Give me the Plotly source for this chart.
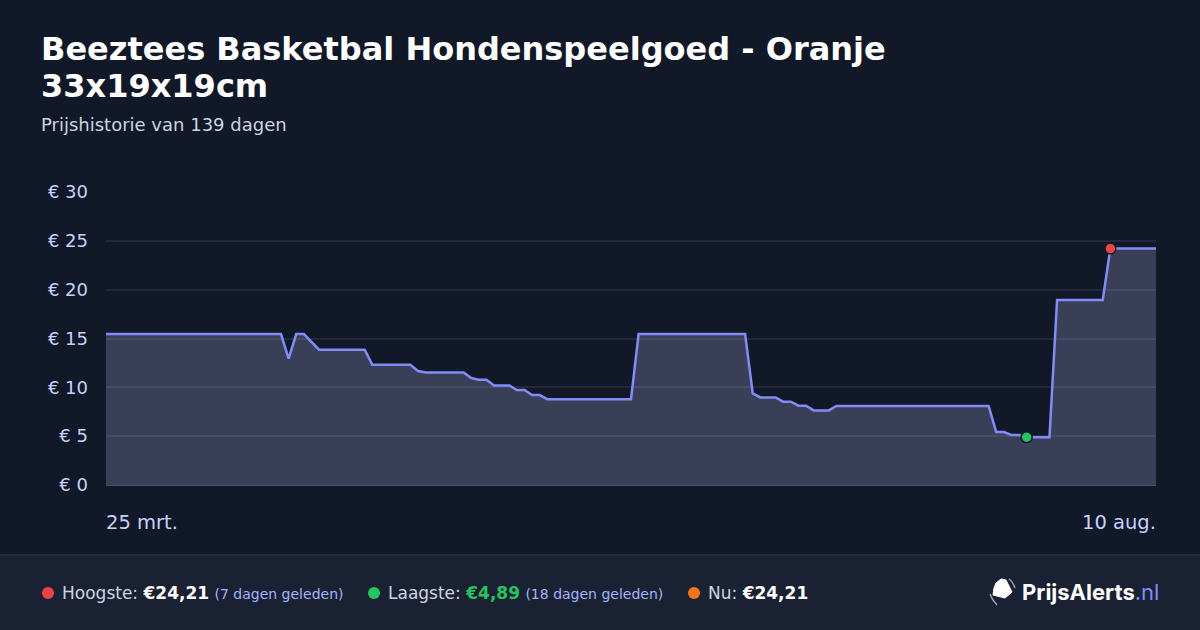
"""Price history chart for a single product (PrijsAlerts style)."""

import pandas as pd
import plotly.graph_objects as go

# --- data -----------------------------------------------------------------
START_DATE = "2025-03-25"

PRICES = [
    15.45, 15.45, 15.45, 15.45, 15.45, 15.45, 15.45, 15.45, 15.45, 15.45,
    15.45, 15.45, 15.45, 15.45, 15.45, 15.45, 15.45, 15.45, 15.45, 15.45,
    15.45, 15.45, 15.45, 15.45, 12.95, 15.45, 15.45, 14.65, 13.85, 13.85,
    13.85, 13.85, 13.85, 13.85, 13.85, 12.30, 12.30, 12.30, 12.30, 12.30,
    12.30, 11.67, 11.53, 11.53, 11.53, 11.53, 11.53, 11.53, 10.95, 10.78,
    10.78, 10.20, 10.20, 10.20, 9.72, 9.72, 9.21, 9.21, 8.79, 8.79,
    8.79, 8.79, 8.79, 8.79, 8.79, 8.79, 8.79, 8.79, 8.79, 8.79,
    15.45, 15.45, 15.45, 15.45, 15.45, 15.45, 15.45, 15.45, 15.45, 15.45,
    15.45, 15.45, 15.45, 15.45, 15.45, 9.38, 8.97, 8.97, 8.97, 8.53,
    8.53, 8.12, 8.12, 7.64, 7.64, 7.64, 8.09, 8.09, 8.09, 8.09,
    8.09, 8.09, 8.09, 8.09, 8.09, 8.09, 8.09, 8.09, 8.09, 8.09,
    8.09, 8.09, 8.09, 8.09, 8.09, 8.09, 8.09, 5.42, 5.42, 5.12,
    5.12, 4.89, 4.89, 4.89, 4.89, 18.94, 18.94, 18.94, 18.94, 18.94,
    18.94, 18.94, 24.21, 24.21, 24.21, 24.21, 24.21, 24.21, 24.21,
]

TITLE_LINES = ["Beeztees Basketbal Hondenspeelgoed - Oranje", "33x19x19cm"]
SUBTITLE = "Prijshistorie van 139 dagen"
X_TICK_LABELS = ["25 mrt.", "10 aug."]

FOOTER_LABELS = ["Hoogste:", "Laagste:", "Nu:"]
FOOTER_VALUES = ["€24,21", "€4,89", "€24,21"]
FOOTER_NOTES = ["(7 dagen geleden)", "(18 dagen geleden)", ""]

# --- styling --------------------------------------------------------------
BG = "#111827"
FOOTER_BG = "#1a2133"
FOOTER_BORDER = "#27304d"
GRID = "#222a3a"
LINE = "#818cf8"
FILL = "rgba(157,154,202,0.30)"
TICK_COLOR = "#c7d2fe"
SOFT_TEXT = "#cbd5e1"
NOTE_TEXT = "#a5b4fc"
RED, GREEN, ORANGE = "#ef4444", "#22c55e", "#f97316"
FONT = "DejaVu Sans"

W, H = 1200, 630
L, R, T, B = 106, 44, 192, 145


def px_x(x):
    return (x - L) / (W - L - R)


def px_y(y):
    return (H - B - y) / (H - T - B)


def text(x, y, s, size, color, anchor="left", family=FONT):
    return dict(
        x=px_x(x), y=px_y(y), xref="paper", yref="paper", text=s,
        showarrow=False, xanchor=anchor, yanchor="middle",
        font=dict(family=family, size=size, color=color),
    )


dates = pd.date_range(START_DATE, periods=len(PRICES), freq="D")
hi_idx = PRICES.index(max(PRICES))
lo_idx = PRICES.index(min(PRICES))

fig = go.Figure()
fig.add_trace(go.Scatter(
    x=dates, y=PRICES, mode="lines", fill="tozeroy", fillcolor=FILL,
    line=dict(color=LINE, width=2.5), hoverinfo="skip",
))
for idx, color in [(lo_idx, GREEN), (hi_idx, RED)]:
    fig.add_trace(go.Scatter(
        x=[dates[idx]], y=[PRICES[idx]], mode="markers",
        marker=dict(color=color, size=11, line=dict(color=BG, width=1.5)),
        hoverinfo="skip",
    ))

fig.update_xaxes(
    range=[dates[0], dates[-1]], showgrid=False, showticklabels=False,
    showline=True, linecolor="#4b5066", linewidth=1, zeroline=False,
)
fig.update_yaxes(
    range=[0, 30], tickmode="linear", tick0=0, dtick=5, tickprefix="€ ",
    showtickprefix="all", gridcolor=GRID, gridwidth=1.5, zeroline=False,
    showline=False, ticks="", ticklabelstandoff=17,
    tickfont=dict(family=FONT, size=18, color=TICK_COLOR),
)

annotations = [
    text(39, 49, f"<b>{TITLE_LINES[0]}</b>", 32, "#ffffff"),
    text(39, 86, f"<b>{TITLE_LINES[1]}</b>", 32, "#ffffff"),
    text(39, 124, SUBTITLE, 18, SOFT_TEXT),
    text(104, 522, X_TICK_LABELS[0], 19.5, TICK_COLOR, "left"),
    text(1158, 522, X_TICK_LABELS[1], 19.5, TICK_COLOR, "right"),
]

shapes = [
    dict(type="rect", xref="paper", yref="paper", layer="below",
         x0=px_x(0), x1=px_x(W), y0=px_y(H), y1=px_y(555),
         fillcolor=FOOTER_BG, line=dict(width=0)),
    dict(type="line", xref="paper", yref="paper",
         x0=px_x(0), x1=px_x(W), y0=px_y(555), y1=px_y(555),
         line=dict(color=FOOTER_BORDER, width=1.5)),
]

# footer stats
dot_x = [48, 374, 694]
value_colors = ["#ffffff", GREEN, "#ffffff"]
for i, (dx, dot_color) in enumerate(zip(dot_x, [RED, GREEN, ORANGE])):
    shapes.append(dict(
        type="circle", xref="paper", yref="paper",
        x0=px_x(dx - 6), x1=px_x(dx + 6), y0=px_y(599), y1=px_y(587),
        fillcolor=dot_color, line=dict(width=0),
    ))
    s = (f"<span style='color:{SOFT_TEXT}'>{FOOTER_LABELS[i]}</span> "
         f"<b><span style='color:{value_colors[i]}'>{FOOTER_VALUES[i]}</span></b>")
    if FOOTER_NOTES[i]:
        s += f" <span style='font-size:14px;color:{NOTE_TEXT}'>{FOOTER_NOTES[i]}</span>"
    annotations.append(text(dx + 12, 593, s, 17, "#ffffff"))

# logo
annotations.append(text(
    1020, 592,
    f"<b>PrijsAlerts</b><span style='color:{LINE}'>.nl</span>",
    22, "#ffffff", family="Inter",
))
tag = [(996, 583), (1001, 579), (1006, 580), (1012, 592), (1005, 598), (993, 595), (994, 588)]
tag_path = "M " + " L ".join(f"{px_x(x)},{px_y(y)}" for x, y in tag) + " Z"
shapes.append(dict(type="path", xref="paper", yref="paper", path=tag_path,
                   fillcolor="#ffffff", line=dict(color="#ffffff", width=1)))
for pts in ([(990, 594), (992, 600), (997, 605)], [(1009, 579), (1013, 582), (1015, 588)]):
    p = "M {},{} Q {},{} {},{}".format(
        px_x(pts[0][0]), px_y(pts[0][1]), px_x(pts[1][0]), px_y(pts[1][1]),
        px_x(pts[2][0]), px_y(pts[2][1]))
    shapes.append(dict(type="path", xref="paper", yref="paper", path=p,
                       line=dict(color="#94a3b8", width=1.5)))

fig.update_layout(
    width=W, height=H, margin=dict(l=L, r=R, t=T, b=B),
    paper_bgcolor=BG, plot_bgcolor=BG, showlegend=False,
    annotations=annotations, shapes=shapes,
    font=dict(family=FONT, color=SOFT_TEXT),
)

fig.write_html(
    "out.html",
    config={"displayModeBar": False},
    post_script="document.body.style.margin='0';document.body.style.background='#111827';",
)
